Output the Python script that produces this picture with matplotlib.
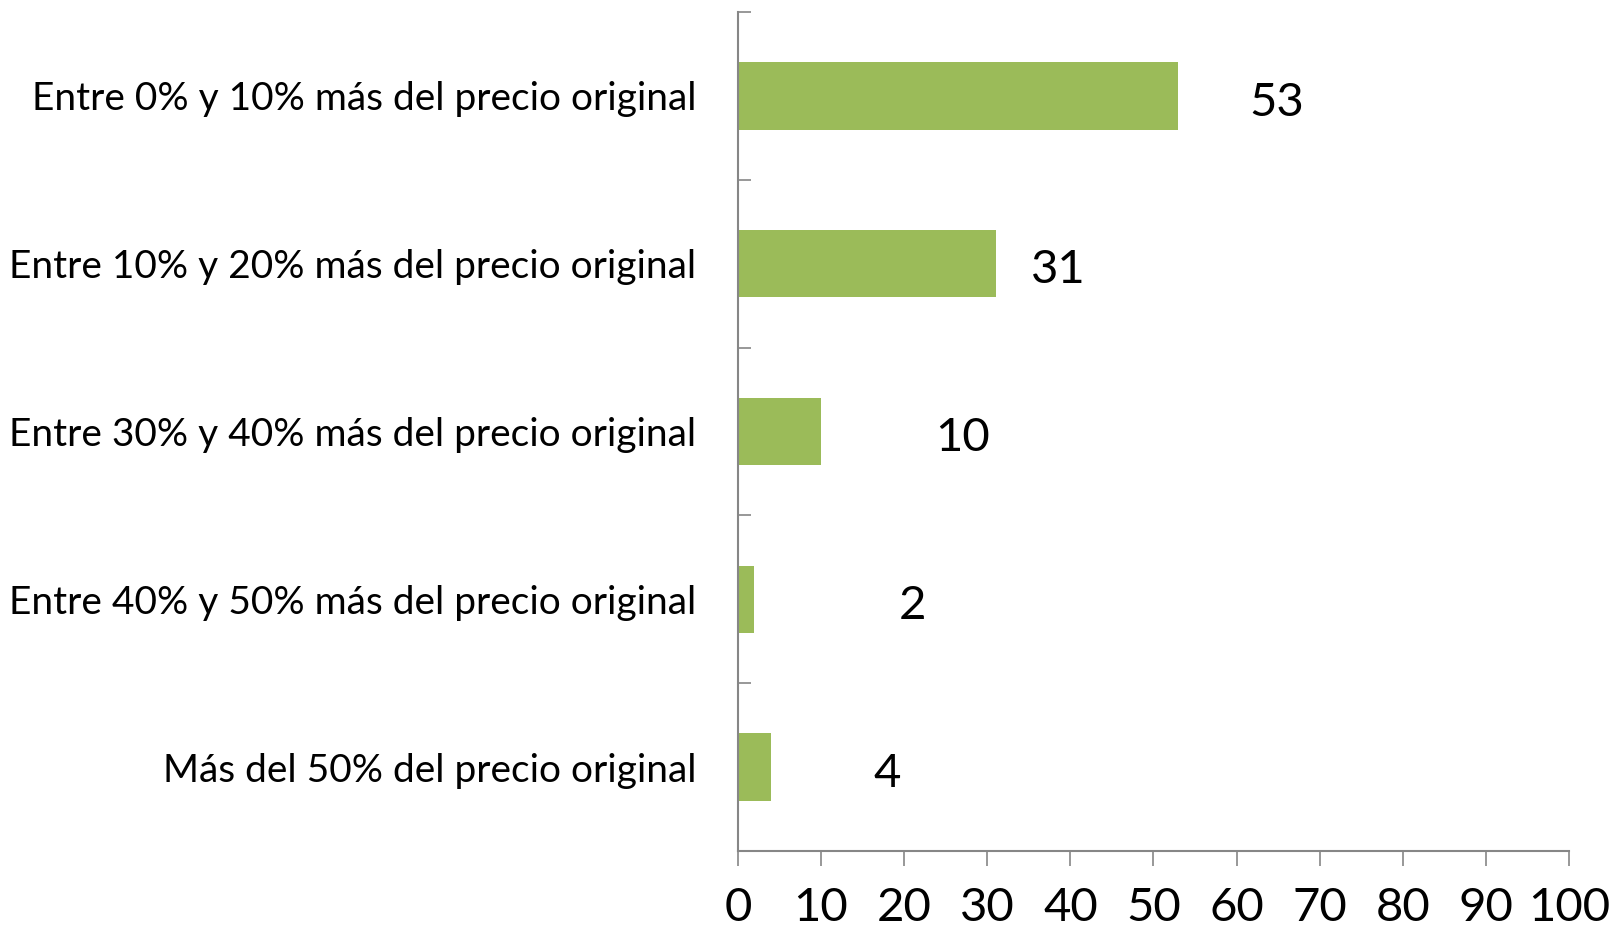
import matplotlib.pyplot as plt
import numpy as np

categorias = [
    "Entre 0% y 10% más del precio original",
    "Entre 10% y 20% más del precio original",
    "Entre 30% y 40% más del precio original",
    "Entre 40% y 50% más del precio original",
    "Más del 50% del precio original",
]
valores = [53, 31, 10, 2, 4]
# posición x de cada etiqueta de valor (colocadas a mano en el original)
pos_etiquetas = [64.8, 38.6, 27.0, 21.0, 18.0]
ticks_x = list(range(0, 101, 10))

plt.rcParams['font.family'] = ['Lato', 'DejaVu Sans']

fig = plt.figure(figsize=(16.11, 9.32), dpi=100)
ax = fig.add_axes([0.458, 0.087, 0.516, 0.9])

y = np.arange(len(categorias)) + 0.5
ax.barh(y, valores, height=0.4, color='#9BBB59', zorder=2)

for yi, v, px in zip(y, valores, pos_etiquetas):
    ax.text(px, yi + 0.04, str(v), ha='center', va='center', fontsize=34, color='black')

ax.set_xlim(0, 100)
ax.set_ylim(len(categorias), 0)

gris = '#868686'
for s in ['top', 'right']:
    ax.spines[s].set_visible(False)
for s in ['left', 'bottom']:
    ax.spines[s].set_color(gris)
    ax.spines[s].set_linewidth(1.5)

ax.set_xticks(ticks_x)
ax.tick_params(axis='x', direction='out', length=11, width=1.2, color=gris,
               labelsize=34, pad=15)

ax.set_yticks(np.arange(len(categorias) + 1))
ax.set_yticklabels([])
ax.set_yticks(y, minor=True)
ax.set_yticklabels(categorias, minor=True)
ax.tick_params(axis='y', which='major', direction='in', length=9, width=1.2, color=gris)
ax.tick_params(axis='y', which='minor', length=0, labelsize=28, pad=30)

fig.savefig('out.png', dpi=100)
